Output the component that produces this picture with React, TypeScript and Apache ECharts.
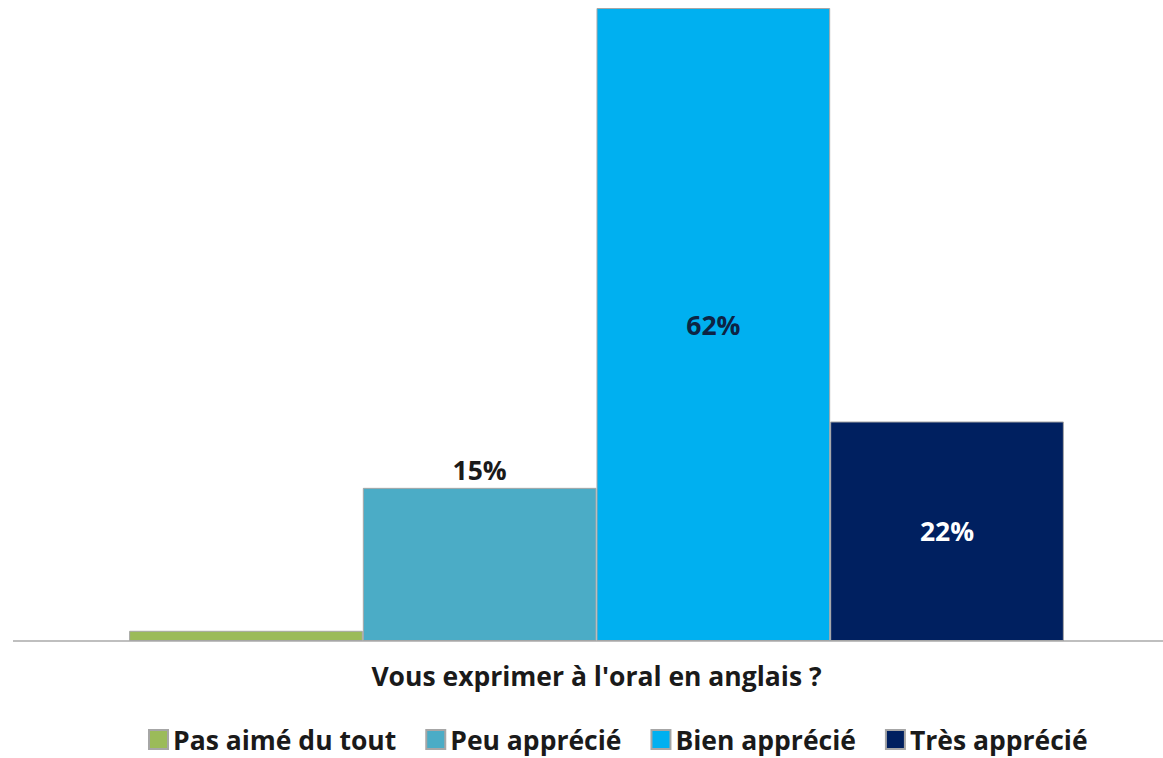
import React, { useEffect, useRef } from "react";
import * as echarts from "echarts";

const categories = ["Vous exprimer à l'oral en anglais ?"];
const seriesNames = ["Pas aimé du tout", "Peu apprécié", "Bien apprécié", "Très apprécié"];
const seriesValues = [1, 15, 62, 21.5];
const seriesColors = ["#9BBB59", "#4BACC6", "#00B0F0", "#002060"];
const labelShown = [false, true, true, true];
const labelPositions = ["top", "top", "inside", "inside"];
const labelColors = ["#1a1a1a", "#1a1a1a", "#0d2444", "#ffffff"];

const FONT = "'Open Sans', 'Noto Sans', sans-serif";

export default function App() {
  const ref = useRef<HTMLDivElement>(null);
  useEffect(() => {
    if (!ref.current) return;
    const chart = echarts.init(ref.current, null, { renderer: "svg" });
    chart.setOption({
      animation: false,
      backgroundColor: "#ffffff",
      grid: { left: 30, right: 0, top: 8, bottom: 117, containLabel: false },
      legend: {
        bottom: 0,
        left: 143,
        itemWidth: 19,
        itemHeight: 19,
        itemGap: 29,
        icon: "rect",
        textStyle: { fontFamily: FONT, fontWeight: "bold", fontSize: 26.5, color: "#1a1a1a" },
        data: seriesNames,
      },
      xAxis: {
        type: "category",
        data: categories,
        axisLine: { lineStyle: { color: "#bfbfbf", width: 2 } },
        axisTick: { show: false },
        axisLabel: { margin: 21, fontFamily: FONT, fontWeight: "bold", fontSize: 26.5, color: "#1a1a1a" },
      },
      yAxis: {
        type: "value",
        min: 0,
        max: 62,
        show: false,
        splitLine: { show: false },
      },
      graphic: [
        {
          type: "line",
          shape: { x1: 13, y1: 641, x2: 30, y2: 641 },
          style: { stroke: "#bfbfbf", lineWidth: 2 },
        },
      ],
      series: seriesNames.map((name, i) => ({
        name,
        type: "bar",
        data: [seriesValues[i]],
        barGap: "0%",
        barCategoryGap: "17.5%",
        itemStyle: { color: seriesColors[i], borderColor: "#a6a6a6", borderWidth: 1 },
        label: {
          show: labelShown[i],
          position: labelPositions[i],
          distance: 4,
          formatter: (p: any) => Math.round(p.value) + "%",
          fontFamily: FONT,
          fontWeight: "bold",
          fontSize: 26.5,
          color: labelColors[i],
        },
      })),
    });
    return () => chart.dispose();
  }, []);
  return (
    <div
      ref={ref}
      style={{ position: "fixed", left: 0, top: 0, width: 1163, height: 758 }}
    />
  );
}
